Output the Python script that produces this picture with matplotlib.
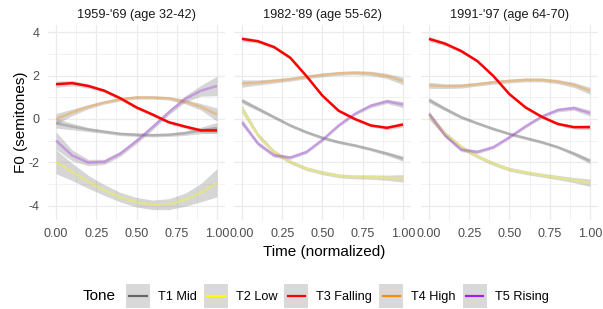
import matplotlib
matplotlib.use("Agg")
import matplotlib.pyplot as plt
from matplotlib.lines import Line2D
from matplotlib.patches import Rectangle
from matplotlib.legend_handler import HandlerBase
import numpy as np

plt.rcParams['font.family'] = ['Liberation Sans', 'DejaVu Sans']

# ---------------- data ----------------
time = [0.0, 0.1, 0.2, 0.3, 0.4, 0.5, 0.6, 0.7, 0.8, 0.9, 1.0]
periods = ["1959-'69 (age 32-42)", "1982-'89 (age 55-62)", "1991-'97 (age 64-70)"]
tones = ["T1 Mid", "T2 Low", "T3 Falling", "T4 High", "T5 Rising"]
tone_colors = ["#666666", "#FFFF00", "#FF0000", "#FF8C00", "#A020F0"]

# 1959-'69
mid_1959     = [-0.20, -0.35, -0.49, -0.59, -0.69, -0.73, -0.75, -0.73, -0.66, -0.53, -0.41]
low_1959     = [-1.98, -2.44, -2.90, -3.28, -3.61, -3.84, -3.96, -3.93, -3.73, -3.40, -2.94]
falling_1959 = [1.60, 1.65, 1.52, 1.30, 0.95, 0.53, 0.20, -0.15, -0.35, -0.53, -0.53]
high_1959    = [0.00, 0.30, 0.56, 0.76, 0.91, 0.99, 0.99, 0.95, 0.80, 0.56, 0.20]
rising_1959  = [-1.00, -1.68, -2.01, -1.98, -1.60, -1.02, -0.38, 0.30, 0.91, 1.30, 1.52]

# 1982-'89
mid_1982     = [0.84, 0.46, 0.08, -0.30, -0.61, -0.87, -1.07, -1.22, -1.40, -1.60, -1.83]
low_1982     = [0.46, -0.76, -1.52, -1.98, -2.29, -2.48, -2.62, -2.67, -2.68, -2.71, -2.74]
falling_1982 = [3.69, 3.58, 3.31, 2.82, 1.98, 1.07, 0.38, 0.00, -0.30, -0.41, -0.26]
high_1982    = [1.63, 1.68, 1.75, 1.83, 1.94, 2.03, 2.10, 2.13, 2.10, 1.98, 1.75]
rising_1982  = [-0.15, -1.14, -1.68, -1.78, -1.52, -0.96, -0.30, 0.23, 0.61, 0.81, 0.66]

# 1991-'97
mid_1991     = [0.87, 0.46, 0.08, -0.20, -0.46, -0.69, -0.88, -1.07, -1.30, -1.60, -1.94]
low_1991     = [0.15, -0.69, -1.30, -1.72, -2.06, -2.32, -2.47, -2.59, -2.70, -2.82, -2.94]
falling_1991 = [3.69, 3.47, 3.13, 2.67, 1.98, 1.14, 0.53, 0.10, -0.23, -0.38, -0.38]
high_1991    = [1.55, 1.51, 1.52, 1.60, 1.69, 1.75, 1.80, 1.80, 1.72, 1.57, 1.30]
rising_1991  = [0.23, -0.76, -1.42, -1.52, -1.30, -0.84, -0.34, 0.11, 0.41, 0.50, 0.27]

# confidence half-widths
se_mid_1959     = [0.22, 0.15, 0.10, 0.08, 0.08, 0.08, 0.08, 0.08, 0.10, 0.15, 0.25]
se_low_1959     = [0.55, 0.40, 0.30, 0.25, 0.22, 0.22, 0.22, 0.25, 0.30, 0.42, 0.65]
se_falling_1959 = [0.15, 0.12, 0.10, 0.08, 0.08, 0.08, 0.08, 0.08, 0.08, 0.10, 0.12]
se_high_1959    = [0.25, 0.15, 0.10, 0.08, 0.08, 0.08, 0.08, 0.08, 0.10, 0.15, 0.30]
se_rising_1959  = [0.40, 0.25, 0.15, 0.12, 0.12, 0.12, 0.12, 0.12, 0.15, 0.25, 0.45]

se_mid_1982     = [0.12, 0.09, 0.08, 0.07, 0.07, 0.07, 0.07, 0.07, 0.07, 0.09, 0.12]
se_low_1982     = [0.17, 0.12, 0.10, 0.09, 0.09, 0.09, 0.09, 0.09, 0.10, 0.12, 0.17]
se_falling_1982 = [0.12, 0.09, 0.08, 0.07, 0.07, 0.07, 0.07, 0.07, 0.07, 0.09, 0.12]
se_high_1982    = [0.17, 0.12, 0.10, 0.09, 0.09, 0.09, 0.09, 0.09, 0.10, 0.12, 0.17]
se_rising_1982  = [0.14, 0.10, 0.09, 0.08, 0.08, 0.08, 0.08, 0.08, 0.09, 0.10, 0.14]

se_mid_1991     = [0.12, 0.09, 0.08, 0.07, 0.07, 0.07, 0.07, 0.07, 0.07, 0.09, 0.12]
se_low_1991     = [0.17, 0.12, 0.10, 0.09, 0.09, 0.09, 0.09, 0.09, 0.10, 0.12, 0.17]
se_falling_1991 = [0.12, 0.09, 0.08, 0.07, 0.07, 0.07, 0.07, 0.07, 0.07, 0.09, 0.12]
se_high_1991    = [0.14, 0.11, 0.10, 0.09, 0.09, 0.09, 0.09, 0.09, 0.10, 0.12, 0.16]
se_rising_1991  = [0.14, 0.10, 0.09, 0.08, 0.08, 0.08, 0.08, 0.08, 0.09, 0.10, 0.14]

x_ticks = [0.0, 0.25, 0.5, 0.75, 1.0]
x_tick_labels = ["0.00", "0.25", "0.50", "0.75", "1.00"]
y_ticks = [-4, -2, 0, 2, 4]
y_tick_labels = ["-4", "-2", "0", "2", "4"]

series = [
    [mid_1959, low_1959, falling_1959, high_1959, rising_1959],
    [mid_1982, low_1982, falling_1982, high_1982, rising_1982],
    [mid_1991, low_1991, falling_1991, high_1991, rising_1991],
]
ses = [
    [se_mid_1959, se_low_1959, se_falling_1959, se_high_1959, se_rising_1959],
    [se_mid_1982, se_low_1982, se_falling_1982, se_high_1982, se_rising_1982],
    [se_mid_1991, se_low_1991, se_falling_1991, se_high_1991, se_rising_1991],
]

# ---------------- figure ----------------
W, H = 603, 309
fig = plt.figure(figsize=(W / 100, H / 100), dpi=100)

panel_left_px = [47.95, 233.9, 420.9]
panel_w_px = 177.1
top_px, bot_px = 25, 220

grid_col = "#EBEBEB"
tick_col = "#4D4D4D"

for i in range(3):
    ax = fig.add_axes([panel_left_px[i] / W, (H - bot_px) / H, panel_w_px / W, (bot_px - top_px) / H])
    ax.set_xlim(-0.05, 1.05)
    ax.set_ylim(-4.66, 4.33)
    for s in ax.spines.values():
        s.set_visible(False)
    ax.set_xticks(x_ticks)
    ax.set_xticklabels(x_tick_labels)
    ax.set_xticks([0.125, 0.375, 0.625, 0.875], minor=True)
    ax.set_yticks(y_ticks)
    ax.set_yticks([-3, -1, 1, 3], minor=True)
    if i == 0:
        ax.set_yticklabels(y_tick_labels)
    else:
        ax.set_yticklabels([])
    ax.tick_params(axis='both', which='both', length=0, labelsize=9, labelcolor=tick_col)
    ax.tick_params(axis='x', pad=5.5)
    ax.tick_params(axis='y', pad=6)
    ax.grid(True, which='major', color=grid_col, linewidth=0.9)
    ax.grid(True, which='minor', color=grid_col, linewidth=0.45)
    ax.set_axisbelow(True)
    ax.set_title(periods[i], fontsize=9.2, color="#1A1A1A", pad=5)

    t = np.array(time)
    for k in range(5):
        y = np.array(series[i][k]); se = np.array(ses[i][k])
        ax.fill_between(t, y - se, y + se, color="#999999", alpha=0.4, linewidth=0, zorder=2)
    for k in [0, 1, 3, 4]:
        ax.plot(t, series[i][k], color=tone_colors[k], alpha=0.33, linewidth=1.8,
                solid_capstyle='butt', solid_joinstyle='round', zorder=3)
    ax.plot(t, series[i][2], color=tone_colors[2], linewidth=1.8, solid_capstyle='butt',
            solid_joinstyle='round', zorder=4)

fig.text(21 / W, (H - 122.5) / H, "F0 (semitones)", rotation=90, ha='center', va='center',
         fontsize=11, color="#000000")
fig.text(324 / W, (H - 252) / H, "Time (normalized)", ha='center', va='center',
         fontsize=11, color="#000000")


class KeyHandler(HandlerBase):
    def create_artists(self, legend, orig_handle, xdescent, ydescent, width, height,
                       fontsize, trans):
        rect = Rectangle((-xdescent, -ydescent), width, height, facecolor="#D9D9D9",
                         edgecolor='none', transform=trans)
        yc = -ydescent + height / 2
        line = Line2D([-xdescent + 0.14 * width, -xdescent + 0.86 * width], [yc, yc],
                      color=orig_handle.get_color(), linewidth=1.6, transform=trans)
        return [rect, line]


fig.text(83 / W, (H - 296) / H, "Tone", ha='left', va='center', fontsize=11, color="#000000")
handles = [Line2D([], [], color=c) for c in tone_colors]
fig.legend(handles, tones, loc='center left', bbox_to_anchor=(126 / W, (H - 296) / H),
           ncol=5, frameon=False, borderpad=0, borderaxespad=0,
           handlelength=1.88, handleheight=2.515, handletextpad=0.62, columnspacing=0.55,
           fontsize=9.2, handler_map={Line2D: KeyHandler()})

fig.savefig("out.png", dpi=100)
